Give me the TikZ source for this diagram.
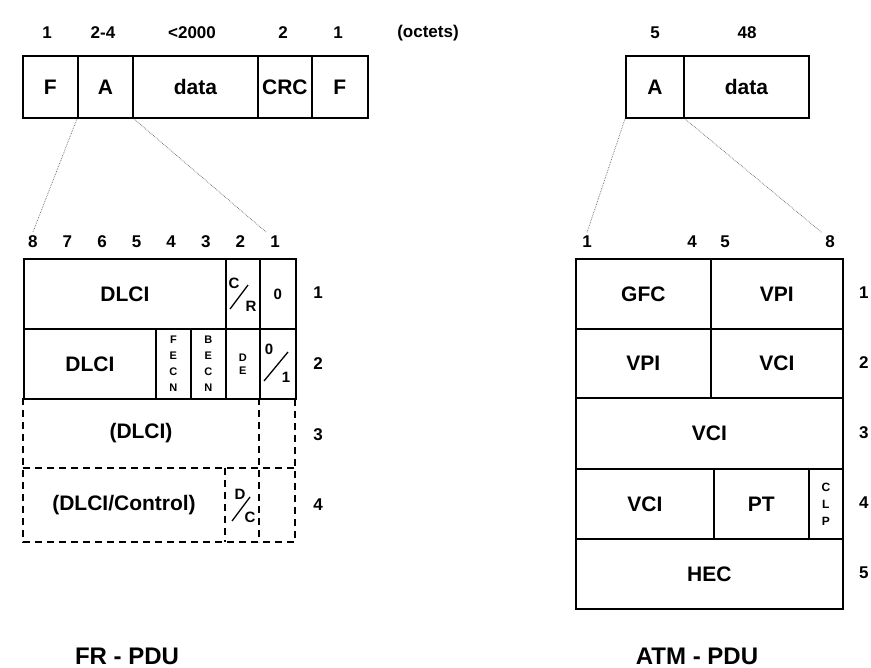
\documentclass[tikz,border=0pt]{standalone}
\usepackage{fontspec}
\setmainfont{Liberation Sans}

\tikzset{
  box/.style={draw, line width=1.8pt, inner sep=0pt, anchor=north west,
    font=\bfseries\fontsize{21}{21}\selectfont},
  lbl/.style={font=\bfseries\fontsize{21}{21}\selectfont},
  num/.style={font=\bfseries\fontsize{17}{17}\selectfont},
  tiny/.style={font=\bfseries\fontsize{11}{16}\selectfont, align=center, inner sep=0pt},
  small/.style={font=\bfseries\fontsize{15}{15}\selectfont, inner sep=0pt},
  dashbox/.style={line width=1.8pt, dash pattern=on 7pt off 5pt},
  lead/.style={densely dotted, black!60, line width=0.7pt},
  title/.style={font=\bfseries\fontsize{24}{24}\selectfont},
}

\begin{document}
\begin{tikzpicture}[x=1pt, y=-1pt]
  \useasboundingbox (0,0) rectangle (871,668);

  % FR frame
  \node[num] (fo1) at (47,33) {1};
  \node[num] (fo2) at (103,33) {2-4};
  \node[num] (fo3) at (192,33) {{<}2000};
  \node[num] (fo4) at (283,33) {2};
  \node[num] (fo5) at (338,33) {1};
  \node[num] (fo6) at (428,33) {(octets)};

  \node[box, minimum width=55pt, minimum height=62pt] (fF1) at (22,55) {F};
  \node[box, minimum width=55pt, minimum height=62pt] (fA) at (77,55) {A};
  \node[box, minimum width=125pt, minimum height=62pt] (fdata) at (132,55) {data};
  \node[box, minimum width=54pt, minimum height=62pt] (fcrc) at (257,55) {CRC};
  \node[box, minimum width=56pt, minimum height=62pt] (fF2) at (311,55) {F};

  % FR address field
  \foreach \b in {1,...,8}
    \node[num] (fb\b) at ({275-(\b-1)*34.6},242) {\b};
  \foreach \r in {1,...,4}
    \node[num] (fr\r) at (318,{293+(\r-1)*70.7}) {\r};

  \draw[lead] (fA.south west) -- (fb8.north);
  \draw[lead] (fA.south east) -- (fb1.north west);

  \node[box, minimum width=202pt, minimum height=70pt] (fdlci1) at (23,258) {DLCI};
  \node[box, minimum width=34pt, minimum height=70pt] (fcr) at (225,258) {};
  \node[box, minimum width=36pt, minimum height=70pt, font=\bfseries\fontsize{15}{15}\selectfont] (fea0) at (259,258) {0};
  \node[box, minimum width=132pt, minimum height=70pt] (fdlci2) at (23,328) {DLCI};
  \node[box, minimum width=35pt, minimum height=70pt] (ffecn) at (155,328) {};
  \node[box, minimum width=35pt, minimum height=70pt] (fbecn) at (190,328) {};
  \node[box, minimum width=34pt, minimum height=70pt] (fde) at (225,328) {};
  \node[box, minimum width=36pt, minimum height=70pt] (fea1) at (259,328) {};

  \node[small] (cC) at (234,283) {C};
  \node[small] (cR) at (251,306) {R};
  \draw[line width=1.3pt] (230,309) -- (248,285);
  \node[tiny] (fecn) at (ffecn) {F\\E\\C\\N};
  \node[tiny] (becn) at (fbecn) {B\\E\\C\\N};
  \node[tiny, font=\bfseries\fontsize{11}{13}\selectfont] (de) at (fde) {D\\E};
  \node[small] (e0) at (269,349) {0};
  \node[small] (e1) at (286,377) {1};
  \draw[line width=1.3pt] (264,381) -- (288,352);

  \draw[dashbox] (23,398) -- (23,542) -- (295,542) -- (295,398);
  \draw[dashbox] (23,468) -- (295,468);
  \draw[dashbox] (259,398) -- (259,542);
  \draw[dashbox] (225,468) -- (225,542);
  \node[lbl] (fdlci3) at (141,433) {(DLCI)};
  \node[lbl] (fctrl) at (124,505) {(DLCI/Control)};
  \node[small] (dD) at (240,494) {D};
  \node[small] (dC) at (250,517) {C};
  \draw[line width=1.3pt] (232,521) -- (250,497);

  \node[title] (frpdu) at (127,656) {FR - PDU};

  % ATM cell
  \node[num] (ao1) at (655,33) {5};
  \node[num] (ao2) at (747,33) {48};
  \node[box, minimum width=58pt, minimum height=62pt] (aA) at (625,55) {A};
  \node[box, minimum width=125pt, minimum height=62pt] (adata) at (683,55) {data};

  \node[num] (ab1) at (587,242) {1};
  \node[num] (ab4) at (692,242) {4};
  \node[num] (ab5) at (725,242) {5};
  \node[num] (ab8) at (830,242) {8};
  \foreach \r in {1,...,5}
    \node[num, anchor=west, inner sep=0pt] (ar\r) at (859,{293+(\r-1)*70}) {\r};

  \draw[lead] (aA.south west) -- (ab1.north);
  \draw[lead] (aA.south east) -- (ab8.north west);

  \node[box, minimum width=135pt, minimum height=70pt] (agfc) at (575,258) {GFC};
  \node[box, minimum width=132pt, minimum height=70pt] (avpi1) at (710,258) {VPI};
  \node[box, minimum width=135pt, minimum height=69pt] (avpi2) at (575,328) {VPI};
  \node[box, minimum width=132pt, minimum height=69pt] (avci1) at (710,328) {VCI};
  \node[box, minimum width=267pt, minimum height=71pt] (avci2) at (575,397) {VCI};
  \node[box, minimum width=138pt, minimum height=70pt] (avci3) at (575,468) {VCI};
  \node[box, minimum width=95pt, minimum height=70pt] (apt) at (713,468) {PT};
  \node[box, minimum width=34pt, minimum height=70pt] (aclp) at (808,468) {};
  \node[tiny, font=\bfseries\fontsize{12}{17}\selectfont] (clp) at (aclp) {C\\L\\P};
  \node[box, minimum width=267pt, minimum height=70pt] (ahec) at (575,538) {HEC};

  \node[title] (atmpdu) at (697,656) {ATM - PDU};
\end{tikzpicture}
\end{document}
